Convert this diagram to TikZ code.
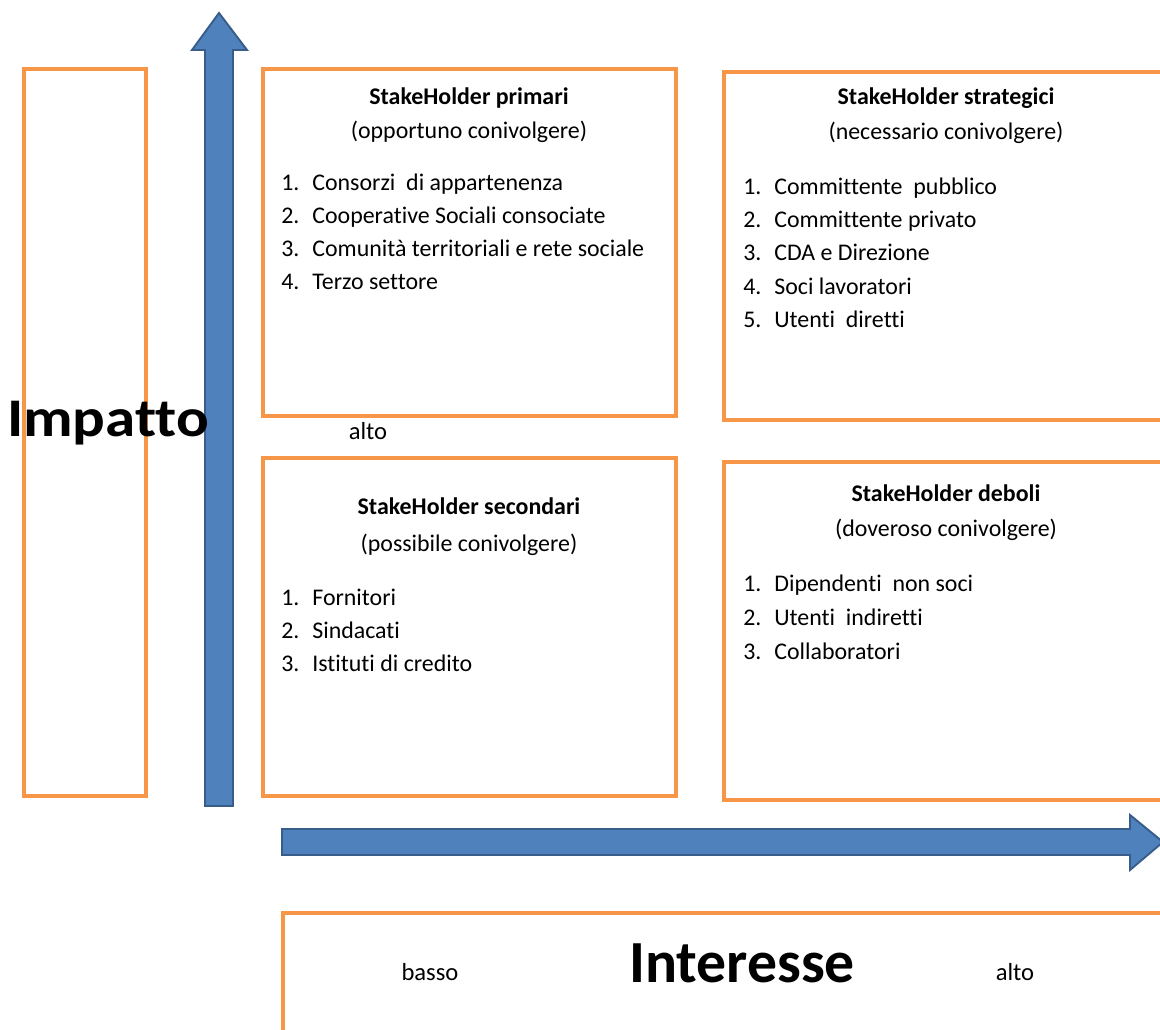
\documentclass[tikz,border=0pt]{standalone}
\usepackage{fontspec}
\setmainfont{Carlito}[Ligatures=NoCommon]
\definecolor{boxorange}{HTML}{F79646}
\definecolor{arrowblue}{HTML}{4F81BD}
\definecolor{arrowedge}{HTML}{385D8A}
\tikzset{
  quad/.style={draw=boxorange, line width=2.1pt},
  blockarrow/.style={fill=arrowblue, draw=arrowedge, line width=1.1pt, line join=miter},
  boxtitle/.style={anchor=base, inner sep=0pt, font=\bfseries\fontsize{13.6}{15}\selectfont},
  boxsub/.style={anchor=base, inner sep=0pt, font=\fontsize{13.6}{15}\selectfont},
  item/.style={anchor=base west, inner sep=0pt, font=\fontsize{13.6}{15}\selectfont},
  axislabel/.style={anchor=base, inner sep=0pt, font=\fontsize{14}{16}\selectfont},
}
\begin{document}
\begin{tikzpicture}[x=0.02cm, y=-0.02cm]
\useasboundingbox (0,0) rectangle (1160,1030);
\clip (0,0) rectangle (1160,1030);

% boxes
\draw[quad] (24,69) rectangle (146,796);
\draw[quad] (263,69) rectangle (676,416);
\draw[quad] (724,72) rectangle (1175,420);
\draw[quad] (263,458) rectangle (676,796);
\draw[quad] (724,462) rectangle (1175,800);
\draw[quad] (283,913) rectangle (1175,1045);

% axes
\draw[blockarrow] (205,806) -- (205,50) -- (192,50) -- (219,13) -- (247,50) -- (233,50) -- (233,806) -- cycle;
\draw[blockarrow] (282,829) -- (1130,829) -- (1130,815) -- (1163,842) -- (1130,870) -- (1130,855) -- (282,855) -- cycle;

\node[anchor=base, inner sep=0pt, font=\bfseries\fontsize{31}{33}\selectfont] (impatto) at (108,437) {\scalebox{1.12}[1]{Impatto}};
\node[axislabel] (altoy) at (368,439) {alto};

% primari
\node[boxtitle] (primT) at (469,105) {StakeHolder primari};
\node[boxsub] (primS) at (469,139) {(opportuno conivolgere)};
\foreach \t [count=\i] in {Consorzi\ \ di appartenenza, Cooperative Sociali consociate, Comunità territoriali e rete sociale, Terzo settore} {
  \node[item] (primN\i) at (281,{158+33*\i}) {\i.};
  \node[item] (primI\i) at (312,{158+33*\i}) {\t};
}

% strategici
\node[boxtitle] (stratT) at (946,105) {StakeHolder strategici};
\node[boxsub] (stratS) at (946,140) {(necessario conivolgere)};
\foreach \t [count=\i] in {Committente\ \ pubblico, Committente privato, CDA e Direzione, Soci lavoratori, Utenti\ \ diretti} {
  \node[item] (stratN\i) at (743,{161+33.3*\i}) {\i.};
  \node[item] (stratI\i) at (774,{161+33.3*\i}) {\t};
}

% secondari
\node[boxtitle] (secT) at (469,515) {StakeHolder secondari};
\node[boxsub] (secS) at (469,551) {(possibile conivolgere)};
\foreach \t [count=\i] in {Fornitori, Sindacati, Istituti di credito} {
  \node[item] (secN\i) at (281,{572+33*\i}) {\i.};
  \node[item] (secI\i) at (312,{572+33*\i}) {\t};
}

% deboli
\node[boxtitle] (debT) at (946,501) {StakeHolder deboli};
\node[boxsub] (debS) at (946,537) {(doveroso conivolgere)};
\foreach \t [count=\i] in {Dipendenti\ \ non soci, Utenti\ \ indiretti, Collaboratori} {
  \node[item] (debN\i) at (743,{557+34*\i}) {\i.};
  \node[item] (debI\i) at (774,{557+34*\i}) {\t};
}

% interesse
\node[axislabel] (basso) at (430,980) {basso};
\node[anchor=base, inner sep=0pt, font=\bfseries\fontsize{34}{36}\selectfont] (interesse) at (742,982) {Interesse};
\node[axislabel] (altox) at (1015,980) {alto};
\end{tikzpicture}
\end{document}
